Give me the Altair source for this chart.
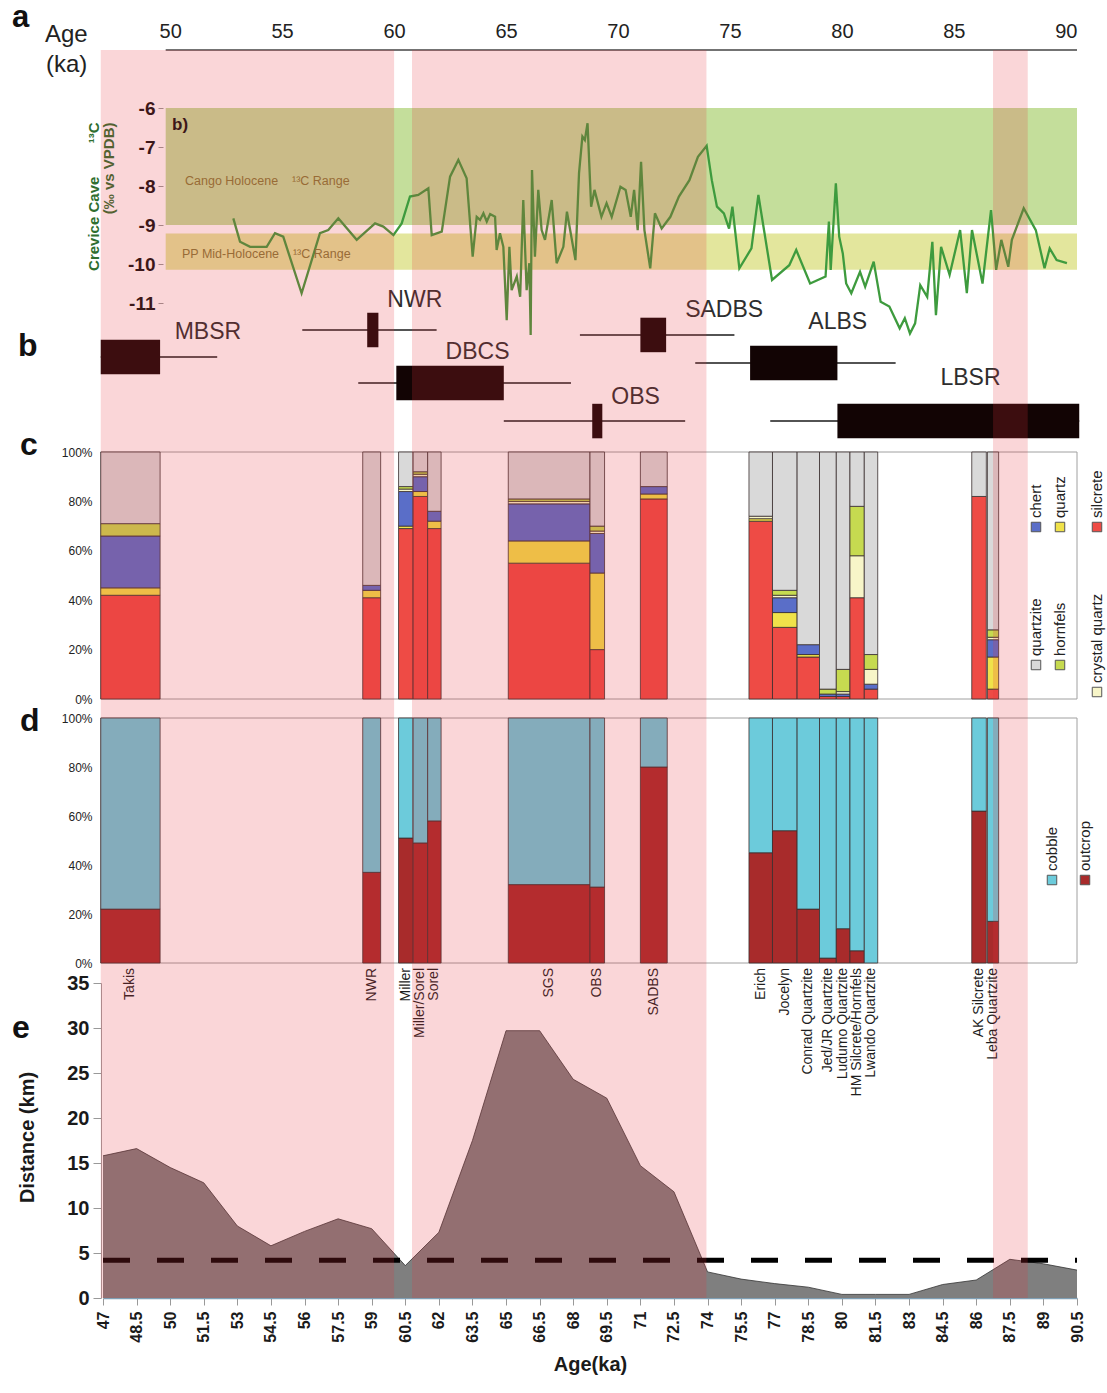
import altair as alt
import pandas as pd

# ---------------- layout of the plot area (pixels) ----------------
W, H = 974, 1248
AGE_DOMAIN = [47.0, 90.5]
FONT = "Liberation Sans"
GAP = "\u00a0\u00a0\u00a0\u00a0"

# ---------------- highlighted intervals (ka) ----------------
band_start = [46.9, 60.8, 86.75]
band_end = [60.0, 73.95, 88.3]

# ---------------- (a) Crevice Cave d13C record ----------------
cc_age = [52.82, 53.12, 53.57, 54.31, 54.68, 55.05, 55.87, 56.69, 57.06, 57.51,
          58.33, 59.15, 59.52, 59.97, 60.34, 60.71, 61.08, 61.53, 61.68, 62.13,
          62.50, 62.87, 63.24, 63.51, 63.69, 63.84, 63.99, 64.14, 64.29, 64.51,
          64.58, 64.73, 64.88, 65.03, 65.15, 65.25, 65.48, 65.63, 65.77, 65.92,
          66.04, 66.10, 66.16, 66.29, 66.44, 66.59, 66.74, 67.04, 67.26, 67.56,
          67.72, 68.10, 68.26, 68.41, 68.52, 68.64, 68.80, 68.95, 69.26, 69.49,
          69.72, 70.11, 70.34, 70.57, 70.72, 70.88, 71.03, 71.18, 71.44, 71.65,
          71.95, 72.34, 72.72, 73.19, 73.57, 73.96, 74.19, 74.42, 74.73, 74.96,
          75.11, 75.42, 75.96, 76.27, 76.88, 77.65, 77.96, 78.58, 79.27, 79.42,
          79.50, 79.73, 79.88, 80.04, 80.19, 80.42, 80.81, 81.04, 81.42, 81.73,
          82.12, 82.58, 82.81, 83.04, 83.27, 83.50, 83.81, 84.04, 84.20, 84.43,
          84.81, 85.28, 85.58, 85.81, 86.28, 86.66, 86.89, 87.12, 87.43, 87.59,
          88.12, 88.66, 89.05, 89.28, 89.59, 90.05]
cc_d13c = [-8.83, -9.43, -9.56, -9.56, -9.21, -9.30, -10.75, -9.21, -9.13, -8.83,
           -9.38, -8.96, -9.04, -9.26, -8.96, -8.27, -8.23, -8.06, -9.26, -9.17,
           -7.76, -7.33, -7.80, -9.81, -8.79, -8.87, -8.70, -8.91, -8.72, -8.79,
           -9.64, -9.21, -9.56, -11.44, -9.56, -10.67, -10.32, -10.84, -8.36, -10.67,
           -9.98, -11.82, -7.59, -9.81, -8.10, -9.13, -9.38, -8.36, -9.98, -9.56,
           -8.66, -9.90, -7.67, -6.73, -6.82, -6.39, -8.53, -8.10, -8.79, -8.44,
           -8.79, -8.02, -8.10, -8.79, -8.10, -9.13, -7.38, -9.13, -10.11, -8.70,
           -9.09, -8.79, -8.27, -7.85, -7.25, -6.97, -7.85, -8.53, -8.70, -9.09,
           -8.53, -10.11, -9.60, -8.23, -10.41, -10.03, -9.64, -10.50, -10.32, -8.91,
           -10.15, -7.93, -9.30, -9.73, -10.50, -10.75, -10.20, -10.58, -9.94, -10.97,
           -11.09, -11.65, -11.39, -11.78, -11.52, -10.54, -10.84, -9.43, -11.31, -9.56,
           -10.28, -9.13, -10.75, -9.13, -10.50, -8.62, -10.15, -9.38, -10.07, -9.38,
           -8.57, -9.13, -10.11, -9.60, -9.90, -9.98]

# Holocene reference ranges (per mil) and their age extent
cango_range = [-6.0, -9.0]
pp_range = [-9.22, -10.15]
range_age = [49.8, 90.5]

# ---------------- (b) dated units ----------------
date_names = ["MBSR", "NWR", "DBCS", "OBS", "SADBS", "ALBS", "LBSR"]
date_box_lo = [46.9, 58.8, 60.1, 68.85, 71.0, 75.9, 79.8]
date_box_hi = [49.55, 59.3, 64.9, 69.3, 72.15, 79.8, 90.6]
date_whisk_lo = [46.9, 55.9, 58.4, 64.9, 68.3, 73.45, 76.8]
date_whisk_hi = [52.1, 61.9, 67.9, 73.0, 75.2, 82.4, 90.6]
date_lane = [6.2, 8.0, 4.47, 1.93, 7.67, 5.8, 1.93]
date_label_age = [50.2, 59.7, 62.3, 69.7, 73.0, 78.5, 84.4]
date_label_lane = [7.87, 10.0, 6.53, 3.53, 9.33, 8.53, 4.8]

# ---------------- (c, d) sites ----------------
sites = ["Takis", "NWR", "Miller", "Miller/Sorel", "Sorel", "SGS", "OBS", "SADBS",
         "Erich", "Jocelyn", "Conrad Quartzite", "Jed/JR Quartzite", "Ludumo Quartzite",
         "HM Silcrete/Hornfels", "Lwando Quartzite", "AK Silcrete", "Leba Quartzite"]
site_start = [46.9, 58.6, 60.2, 60.85, 61.5, 65.1, 68.75, 71.0, 75.85, 76.9, 78.0,
              79.0, 79.75, 80.36, 81.0, 85.8, 86.5]
site_end = [49.55, 59.4, 60.85, 61.5, 62.1, 68.75, 69.4, 72.2, 76.9, 78.0, 79.0,
            79.75, 80.36, 81.0, 81.6, 86.45, 87.0]

# raw material composition (%)
silcrete = [42, 41, 69, 82, 69, 55, 20, 81, 72, 29, 17, 1, 1, 41, 4, 82, 4]
quartz = [3, 3, 1, 2, 3, 9, 31, 2, 1, 6, 1, 0, 0, 0, 0, 0, 13]
chert = [21, 2, 14, 6, 4, 15, 16, 3, 0, 6, 4, 1, 1, 0, 2, 0, 7]
crystal_quartz = [0, 0, 1, 1, 0, 1, 1, 0, 1, 1, 0, 0, 1, 17, 6, 0, 1]
hornfels = [5, 0, 1, 1, 0, 1, 2, 0, 0, 2, 0, 2, 9, 20, 6, 0, 3]
quartzite = [29, 54, 14, 8, 24, 19, 30, 14, 26, 56, 78, 96, 88, 22, 82, 18, 72]

# source of raw material (% outcrop; remainder cobble)
outcrop = [22, 37, 51, 49, 58, 32, 31, 80, 45, 54, 22, 2, 14, 5, 0, 62, 17]

# ---------------- (e) transport distance ----------------
dist_age = [47, 48.5, 50, 51.5, 53, 54.5, 56, 57.5, 59, 60.5, 62, 63.5, 65, 66.5, 68,
            69.5, 71, 72.5, 74, 75.5, 77, 78.5, 80, 81.5, 83, 84.5, 86, 87.5, 89, 90.5]
dist_km = [15.8, 16.6, 14.5, 12.8, 8.0, 5.8, 7.4, 8.8, 7.7, 3.6, 7.3, 17.5, 29.7, 29.7,
           24.3, 22.2, 14.7, 11.8, 2.9, 2.1, 1.6, 1.2, 0.4, 0.4, 0.4, 1.5, 2.0, 4.3, 3.8, 3.1]
threshold_km = 4.2

# ---------------- colours ----------------
materials = ["silcrete", "quartz", "chert", "crystal quartz", "hornfels", "quartzite"]
material_colors = ["#ee4b45", "#f0e24a", "#5a6ec8", "#f7f5c8", "#c6da50", "#d9d9d9"]
sources = ["outcrop", "cobble"]
source_colors = ["#a82b2b", "#6ccbdb"]


# ---------------- helpers ----------------
def age_x(field, axis=None):
    return alt.X(f"{field}:Q", scale=alt.Scale(domain=AGE_DOMAIN, nice=False, zero=False),
                 axis=axis)


def yscale(domain, rng):
    return alt.Scale(domain=domain, range=rng, nice=False, zero=False)


Y_A = yscale([-11, -6], [253, 58])
Y_B = yscale([0, 10], [400, 250])
Y_C = yscale([0, 1], [649, 402])
Y_D = yscale([0, 1], [913, 668])
Y_E = yscale([0, 35], [H, 933])

ONE = pd.DataFrame({"k": [0]})


def note(text, x, y, size, weight="normal", color="#111111", angle=0, align="left",
         baseline="alphabetic", font=FONT):
    return alt.Chart(ONE).mark_text(
        text=text, fontSize=size, fontWeight=weight, color=color, angle=angle,
        align=align, baseline=baseline, font=font,
    ).encode(x=alt.value(x), y=alt.value(y))


layers = []

# ---------------- panel a ----------------
ranges_df = pd.DataFrame({
    "x0": [range_age[0]] * 2, "x1": [range_age[1]] * 2,
    "top": [cango_range[0], pp_range[0]], "bot": [cango_range[1], pp_range[1]],
    "kind": ["Cango", "PP"],
})
layers.append(alt.Chart(ranges_df).mark_rect().encode(
    x=age_x("x0"), x2="x1",
    y=alt.Y("top:Q", scale=Y_A, axis=alt.Axis(
        orient="left", offset=-60, values=[-6, -7, -8, -9, -10, -11],
        labelExpr="'-' + (-datum.value)", labelFontSize=19, labelFontWeight="bold",
        labelColor="#111111", domain=False, tickSize=5, tickColor="#999999",
        labelPadding=3, grid=False,
        title=["Crevice Cave" + GAP + GAP + "\u00b9\u00b3C", "(\u2030 vs VPDB)"],
        titleColor="#2f6e2f", titleFontSize=15, titleFontWeight="bold",
        titleAngle=270, titleAlign="right", titleBaseline="middle",
        titleX=-70, titleY=72, titleLineHeight=15)),
    y2="bot",
    color=alt.Color("kind:N", scale=alt.Scale(domain=["Cango", "PP"],
                                              range=["#c4de9b", "#e3e69d"]), legend=None),
))

cc_df = pd.DataFrame({"age": cc_age, "d13c": cc_d13c})
layers.append(alt.Chart(cc_df).mark_line(color="#3e9b3e", strokeWidth=2.3).encode(
    x=age_x("age"), y=alt.Y("d13c:Q", scale=Y_A, axis=None)))

layers.append(note("b)", 69, 75, 17, weight="bold", baseline="middle"))
layers.append(note("Cango Holocene" + GAP + "\u00b9\u00b3C Range", 82, 131, 12.5,
                   color="#857a35", baseline="middle"))
layers.append(note("PP Mid-Holocene" + GAP + "\u00b9\u00b3C Range", 79, 204, 12.5,
                   color="#857a35", baseline="middle"))

# ---------------- panel b ----------------
dates_df = pd.DataFrame({
    "name": date_names, "box_lo": date_box_lo, "box_hi": date_box_hi,
    "w_lo": date_whisk_lo, "w_hi": date_whisk_hi, "lane": date_lane,
    "lab_age": date_label_age, "lab_lane": date_label_lane,
})
dates_df["b0"] = dates_df["lane"] - 1.15
dates_df["b1"] = dates_df["lane"] + 1.15
layers.append(alt.Chart(dates_df).mark_rule(color="#1a1a1a", strokeWidth=1.6).encode(
    x=age_x("w_lo"), x2="w_hi", y=alt.Y("lane:Q", scale=Y_B, axis=None)))
layers.append(alt.Chart(dates_df).mark_rect(color="#120404").encode(
    x=age_x("box_lo"), x2="box_hi", y=alt.Y("b0:Q", scale=Y_B, axis=None), y2="b1"))
layers.append(alt.Chart(dates_df).mark_text(
    align="left", baseline="middle", fontSize=23, color="#2e2e2e", font=FONT).encode(
    x=age_x("lab_age"), y=alt.Y("lab_lane:Q", scale=Y_B, axis=None), text="name:N"))

# ---------------- panel c ----------------
mat_values = dict(zip(materials, [silcrete, quartz, chert, crystal_quartz, hornfels, quartzite]))
rows_c = []
for i, s in enumerate(sites):
    total = sum(mat_values[m][i] for m in materials)
    base = 0.0
    for m in materials:
        v = mat_values[m][i] / total
        if v > 0:
            rows_c.append({"site": s, "x0": site_start[i], "x1": site_end[i],
                           "material": m, "p0": base, "p1": base + v})
        base += v
comp_df = pd.DataFrame(rows_c)

rows_d = []
for i, s in enumerate(sites):
    o = outcrop[i] / 100.0
    if o > 0:
        rows_d.append({"site": s, "x0": site_start[i], "x1": site_end[i],
                       "source": "outcrop", "p0": 0.0, "p1": o})
    rows_d.append({"site": s, "x0": site_start[i], "x1": site_end[i],
                   "source": "cobble", "p0": o, "p1": 1.0})
src_df = pd.DataFrame(rows_d)

frame_df = pd.DataFrame({"x0": [AGE_DOMAIN[0] - 0.1], "x1": [AGE_DOMAIN[1]], "p0": [0], "p1": [1]})
pct_axis = dict(orient="left", offset=2, values=[0, 0.2, 0.4, 0.6, 0.8, 1.0], format=".0%",
                labelFontSize=12, labelColor="#222222", domain=False, ticks=False,
                labelPadding=9, grid=False, title=None)

layers.append(alt.Chart(frame_df).mark_rect(fill="transparent", stroke="#a0a0a0",
                                            strokeWidth=1).encode(
    x=age_x("x0"), x2="x1", y=alt.Y("p0:Q", scale=Y_C, axis=None), y2="p1"))
layers.append(alt.Chart(frame_df).mark_rect(fill="transparent", stroke="#a0a0a0",
                                            strokeWidth=1).encode(
    x=age_x("x0"), x2="x1", y=alt.Y("p0:Q", scale=Y_D, axis=None), y2="p1"))

layers.append(alt.Chart(comp_df).mark_rect(stroke="#3a2e2e", strokeWidth=0.8).encode(
    x=age_x("x0"), x2="x1",
    y=alt.Y("p0:Q", scale=Y_C, axis=alt.Axis(**pct_axis)), y2="p1",
    color=alt.Color("material:N", scale=alt.Scale(domain=materials, range=material_colors),
                    legend=None),
))

# ---------------- panel d ----------------
layers.append(alt.Chart(src_df).mark_rect(stroke="#3a2e2e", strokeWidth=0.8).encode(
    x=age_x("x0"), x2="x1",
    y=alt.Y("p0:Q", scale=Y_D, axis=alt.Axis(**pct_axis)), y2="p1",
    color=alt.Color("source:N", scale=alt.Scale(domain=sources, range=source_colors),
                    legend=None),
))

# site names under panel d
site_df = pd.DataFrame({"site": sites, "x0": site_start, "x1": site_end})
site_df["mid"] = (site_df["x0"] + site_df["x1"]) / 2
layers.append(alt.Chart(site_df).mark_text(
    angle=270, align="right", baseline="middle", fontSize=14, color="#1e1e1e", font=FONT).encode(
    x=age_x("mid"), y=alt.value(918), text="site:N"))

# legends for c and d (rotated)
legend_c = [("quartzite", 933, 615), ("hornfels", 957, 615), ("crystal quartz", 994, 642),
            ("chert", 933, 477), ("quartz", 957, 477), ("silcrete", 994, 477)]
for name, lx, ly in legend_c:
    col = material_colors[materials.index(name)]
    layers.append(alt.Chart(ONE).mark_square(size=90, color=col, stroke="#555555",
                                             strokeWidth=1, opacity=1).encode(
        x=alt.value(lx), y=alt.value(ly)))
    layers.append(note(name, lx, ly - 9, 15, color="#222222", angle=270, baseline="middle"))

legend_d = [("cobble", 949, 830), ("outcrop", 982, 830)]
for name, lx, ly in legend_d:
    col = source_colors[sources.index(name)]
    layers.append(alt.Chart(ONE).mark_square(size=90, color=col, stroke="#555555",
                                             strokeWidth=1, opacity=1).encode(
        x=alt.value(lx), y=alt.value(ly)))
    layers.append(note(name, lx, ly - 9, 15, color="#222222", angle=270, baseline="middle"))

# ---------------- panel e ----------------
dist_df = pd.DataFrame({"age": dist_age, "km": dist_km})
layers.append(alt.Chart(dist_df).mark_area(
    color="#7f7f7f", opacity=1, line={"color": "#333333", "strokeWidth": 0.8}).encode(
    x=age_x("age", axis=alt.Axis(
        orient="bottom", values=dist_age, format=".1~f", labelAngle=270,
        labelFontSize=16, labelFontWeight="bold", labelColor="#1a1a1a",
        tickSize=7, tickColor="#999999", domainColor="#7f9fb5", domainWidth=1.5,
        labelPadding=6, labelFlush=False, labelOverlap=False, grid=False,
        title="Age(ka)", titleFontSize=20, titleFontWeight="bold", titleColor="#1a1a1a",
        titlePadding=12)),
    y=alt.Y("km:Q", scale=Y_E, axis=alt.Axis(
        orient="left", offset=2, values=[0, 5, 10, 15, 20, 25, 30, 35],
        labelFontSize=20, labelFontWeight="bold", labelColor="#1a1a1a",
        tickSize=8, tickColor="#999999", domainColor="#a0a0a0", labelPadding=4, grid=False,
        title="Distance (km)", titleFontSize=20, titleFontWeight="bold", titleColor="#1a1a1a",
        titleAngle=270, titleBaseline="middle", titleX=-74, titleY=1087)),
))

thr_df = pd.DataFrame({"x0": [AGE_DOMAIN[0]], "x1": [AGE_DOMAIN[1]], "km": [threshold_km]})
layers.append(alt.Chart(thr_df).mark_rule(color="#000000", strokeWidth=5,
                                          strokeDash=[27, 27]).encode(
    x=age_x("x0"), x2="x1", y=alt.Y("km:Q", scale=Y_E, axis=None)))

# ---------------- top age axis ----------------
top_df = pd.DataFrame({"x0": [range_age[0]], "x1": [AGE_DOMAIN[1]]})
layers.append(alt.Chart(top_df).mark_rule(color="#444444", strokeWidth=1.3).encode(
    x=age_x("x0", axis=alt.Axis(
        orient="top", values=[50, 55, 60, 65, 70, 75, 80, 85, 90], domain=False,
        ticks=False, labelFontSize=20, labelColor="#222222", labelPadding=9,
        labelFlush=False, grid=False, title=None)),
    x2="x1", y=alt.value(0)))

# ---------------- panel letters and headings ----------------
layers.append(note("a", -91, -23, 31, weight="bold"))
layers.append(note("Age", -58, -8, 24, color="#222222"))
layers.append(note("(ka)", -57, 22, 24, color="#222222"))
layers.append(note("b", -85, 306, 32, weight="bold"))
layers.append(note("c", -83, 405, 32, weight="bold"))
layers.append(note("d", -83, 681, 32, weight="bold"))
layers.append(note("e", -91, 988, 32, weight="bold"))

# ---------------- highlighted intervals on top ----------------
band_df = pd.DataFrame({"x0": band_start, "x1": band_end})
layers.append(alt.Chart(band_df).mark_rect(color="#e6323c", opacity=0.2).encode(
    x=age_x("x0"), x2="x1", y=alt.value(0), y2=alt.value(H)))

chart = alt.layer(*layers).resolve_scale(
    x="independent", y="independent", color="independent"
).properties(
    width=W, height=H,
    autosize=alt.AutoSizeParams(type="none"),
    padding={"left": 103, "top": 50, "right": 30, "bottom": 95},
).configure(font=FONT).configure_view(strokeWidth=0)

chart.save("out.html", embed_options={"renderer": "svg", "actions": False})
